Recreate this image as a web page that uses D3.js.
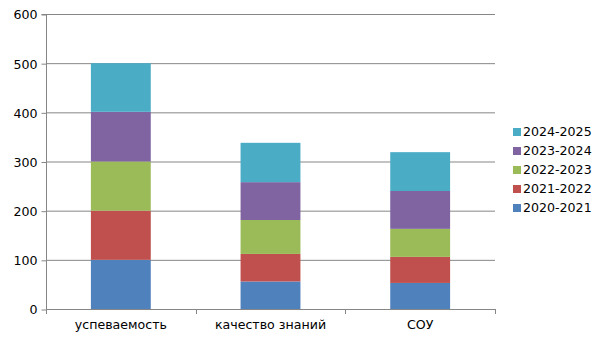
<!DOCTYPE html>
<html><head><meta charset="utf-8">
<script src="https://cdn.jsdelivr.net/npm/d3@7"></script>
<style>body{margin:0;background:#fff}svg{display:block}text{font-family:"DejaVu Sans",sans-serif;font-size:12.6px;fill:#000}</style>
</head><body><svg id="c" width="605" height="340"></svg>
<script>
const categories = ["успеваемость", "качество знаний", "СОУ"];
const seriesNames = ["2020-2021", "2021-2022", "2022-2023", "2023-2024", "2024-2025"];
const s2020 = [100, 56, 53];
const s2021 = [100, 56, 53];
const s2022 = [100, 69, 57];
const s2023 = [101, 77, 77];
const s2024 = [99, 80, 79];
const yTicks = [0, 100, 200, 300, 400, 500, 600];
const colors = ["#4F81BD", "#C0504D", "#9BBB59", "#8064A2", "#4BACC6"];

const seriesVals = [s2020, s2021, s2022, s2023, s2024];
const table = categories.map((c, i) => {
  const o = {cat: c};
  seriesNames.forEach((s, j) => o[s] = seriesVals[j][i]);
  return o;
});
const stacked = d3.stack().keys(seriesNames)(table);

const svg = d3.select("#c");
const L = 46, R = 495, T = 14, B = 309;
const x = d3.scaleBand().domain(categories).range([L, R]).paddingInner(0).paddingOuter(0);
const y = d3.scaleLinear().domain([0, 600]).range([B, T]);
const grey = "#868686";

// gridlines
svg.append("g").selectAll("line").data(yTicks.filter(d => d > 0)).join("line")
  .attr("x1", L).attr("x2", R).attr("y1", d => y(d) + 0.5).attr("y2", d => y(d) + 0.5)
  .attr("stroke", grey).attr("stroke-width", 1);

// bars
const bw = x.bandwidth() * 0.4;
svg.append("g").selectAll("g").data(stacked).join("g")
  .attr("fill", (d, i) => colors[i])
  .selectAll("rect").data(d => d).join("rect")
  .attr("x", d => x(d.data.cat) + (x.bandwidth() - bw) / 2)
  .attr("width", bw)
  .attr("y", d => y(d[1]))
  .attr("height", d => y(d[0]) - y(d[1]));

// y axis
const ya = d3.axisLeft(y).tickValues(yTicks).tickSize(5).tickPadding(4);
const gy = svg.append("g").attr("transform", `translate(${L + 0.5},0.5)`).call(ya);
gy.select(".domain").attr("stroke", grey).attr("d", `M-5,${T}H0V${B}`);
gy.selectAll(".tick line").attr("stroke", grey);
gy.selectAll(".tick text").style("font-family", "DejaVu Sans").style("font-size", "12.6px").attr("fill", "#000").attr("dy", "0.35em");

// x axis
const xa = d3.axisBottom(x).tickSize(0).tickPadding(11);
const gx = svg.append("g").attr("transform", `translate(0,${B + 0.5})`).call(xa);
gx.select(".domain").attr("stroke", grey).attr("d", `M${L},0H${R}`);
gx.selectAll(".tick text").style("font-family", "DejaVu Sans").style("font-size", "12.6px").attr("fill", "#000");
const bounds = categories.map(c => x(c)).concat([R]);
svg.append("g").selectAll("line").data(bounds).join("line")
  .attr("x1", d => Math.round(d) + 0.5).attr("x2", d => Math.round(d) + 0.5)
  .attr("y1", B).attr("y2", B + 5).attr("stroke", grey);

// legend
const lg = svg.append("g");
const order = seriesNames.map((s, i) => i).reverse();
order.forEach((si, k) => {
  const cy = 132 + k * 19;
  lg.append("rect").attr("x", 513).attr("y", cy - 4).attr("width", 8).attr("height", 8).attr("fill", colors[si]);
  lg.append("text").attr("x", 523).attr("y", cy).attr("dy", "0.35em").text(seriesNames[si]);
});
</script></body></html>
